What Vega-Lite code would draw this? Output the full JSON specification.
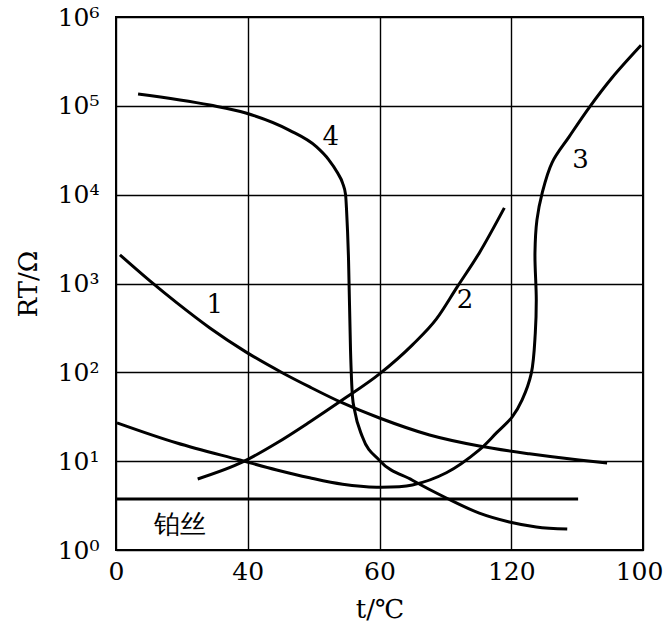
{
  "$schema": "https://vega.github.io/schema/vega-lite/v6.json",
  "width": 527,
  "height": 533,
  "autosize": {"type": "none"},
  "padding": {"left": 116, "top": 17, "right": 20, "bottom": 80},
  "background": "white",
  "config": {
    "view": {"stroke": "black", "strokeWidth": 2},
    "font": "DejaVu Serif",
    "style": {
      "guide-label": {"font": "DejaVu Serif"},
      "guide-title": {"font": "DejaVu Serif"}
    },
    "axis": {
      "grid": true,
      "gridColor": "black",
      "gridWidth": 1.4,
      "gridOpacity": 1,
      "ticks": false,
      "domain": false,
      "labelFont": "DejaVu Serif",
      "labelFontSize": 25,
      "labelColor": "black",
      "titleFont": "DejaVu Serif",
      "titleFontSize": 26,
      "titleFontWeight": "normal",
      "titleColor": "black",
      "labelOverlap": false,
      "labelFlush": false
    }
  },
  "datasets": {
    "curves": [
      {"series": "1", "order": 1, "t": 1.2, "R": 2100},
      {"series": "1", "order": 2, "t": 10.3, "R": 1070},
      {"series": "1", "order": 3, "t": 18.5, "R": 605},
      {"series": "1", "order": 4, "t": 28.5, "R": 316},
      {"series": "1", "order": 5, "t": 39.4, "R": 170},
      {"series": "1", "order": 6, "t": 50.6, "R": 98.4},
      {"series": "1", "order": 7, "t": 58.8, "R": 68.5},
      {"series": "1", "order": 8, "t": 68.8, "R": 45.2},
      {"series": "1", "order": 9, "t": 80, "R": 30.6},
      {"series": "1", "order": 10, "t": 95.2, "R": 19.7},
      {"series": "1", "order": 11, "t": 110.3, "R": 14.8},
      {"series": "1", "order": 12, "t": 125.5, "R": 12.1},
      {"series": "1", "order": 13, "t": 140.6, "R": 10.3},
      {"series": "1", "order": 14, "t": 149.1, "R": 9.55},

      {"series": "2", "order": 1, "t": 24.8, "R": 6.3},
      {"series": "2", "order": 2, "t": 38.5, "R": 9.8},
      {"series": "2", "order": 3, "t": 48.8, "R": 16},
      {"series": "2", "order": 4, "t": 58.8, "R": 27.6},
      {"series": "2", "order": 5, "t": 68.8, "R": 49},
      {"series": "2", "order": 6, "t": 80, "R": 96},
      {"series": "2", "order": 7, "t": 90, "R": 204},
      {"series": "2", "order": 8, "t": 97.3, "R": 399},
      {"series": "2", "order": 9, "t": 103.6, "R": 916},
      {"series": "2", "order": 10, "t": 110.3, "R": 2210},
      {"series": "2", "order": 11, "t": 117.9, "R": 7100},

      {"series": "3", "order": 1, "t": 0.3, "R": 27},
      {"series": "3", "order": 2, "t": 18.5, "R": 16},
      {"series": "3", "order": 3, "t": 37.6, "R": 10.3},
      {"series": "3", "order": 4, "t": 48.8, "R": 7.96},
      {"series": "3", "order": 5, "t": 58.8, "R": 6.5},
      {"series": "3", "order": 6, "t": 68.8, "R": 5.5},
      {"series": "3", "order": 7, "t": 79.1, "R": 5.1},
      {"series": "3", "order": 8, "t": 90, "R": 5.4},
      {"series": "3", "order": 9, "t": 100.3, "R": 7.4},
      {"series": "3", "order": 10, "t": 110.3, "R": 13.4},
      {"series": "3", "order": 11, "t": 115.5, "R": 20.8},
      {"series": "3", "order": 12, "t": 120.3, "R": 31.5},
      {"series": "3", "order": 13, "t": 123.3, "R": 49},
      {"series": "3", "order": 14, "t": 126.1, "R": 98},
      {"series": "3", "order": 15, "t": 127.3, "R": 277},
      {"series": "3", "order": 16, "t": 127.6, "R": 653},
      {"series": "3", "order": 17, "t": 127.2, "R": 2200},
      {"series": "3", "order": 18, "t": 127.8, "R": 5200},
      {"series": "3", "order": 19, "t": 129.4, "R": 10500},
      {"series": "3", "order": 20, "t": 132.4, "R": 23000},
      {"series": "3", "order": 21, "t": 137.6, "R": 45000},
      {"series": "3", "order": 22, "t": 143.6, "R": 95000},
      {"series": "3", "order": 23, "t": 150.6, "R": 207000},
      {"series": "3", "order": 24, "t": 159.4, "R": 480000},

      {"series": "4", "order": 1, "t": 6.7, "R": 136000},
      {"series": "4", "order": 2, "t": 28.5, "R": 102000},
      {"series": "4", "order": 3, "t": 39.4, "R": 83000},
      {"series": "4", "order": 4, "t": 52.7, "R": 53000},
      {"series": "4", "order": 5, "t": 60.9, "R": 34500},
      {"series": "4", "order": 6, "t": 64.5, "R": 25000},
      {"series": "4", "order": 7, "t": 67.3, "R": 17500},
      {"series": "4", "order": 8, "t": 68.8, "R": 13500},
      {"series": "4", "order": 9, "t": 69.7, "R": 10000},
      {"series": "4", "order": 10, "t": 70.0, "R": 6700},
      {"series": "4", "order": 11, "t": 70.6, "R": 1850},
      {"series": "4", "order": 12, "t": 71.2, "R": 178},
      {"series": "4", "order": 13, "t": 71.8, "R": 53},
      {"series": "4", "order": 14, "t": 72.4, "R": 38},
      {"series": "4", "order": 15, "t": 74.8, "R": 18.8},
      {"series": "4", "order": 16, "t": 80, "R": 10.2},
      {"series": "4", "order": 17, "t": 90, "R": 6.1},
      {"series": "4", "order": 18, "t": 100.3, "R": 3.85},
      {"series": "4", "order": 19, "t": 110.3, "R": 2.6},
      {"series": "4", "order": 20, "t": 119.4, "R": 2.07},
      {"series": "4", "order": 21, "t": 127.6, "R": 1.82},
      {"series": "4", "order": 22, "t": 137, "R": 1.72},

      {"series": "Pt", "order": 1, "t": 0, "R": 3.75},
      {"series": "Pt", "order": 2, "t": 140.3, "R": 3.75}
    ],
    "labels": [
      {"label": "1", "t": 30, "R": 575, "font": "DejaVu Serif"},
      {"label": "2", "t": 106, "R": 650, "font": "DejaVu Serif"},
      {"label": "3", "t": 141, "R": 24600, "font": "DejaVu Serif"},
      {"label": "4", "t": 65.2, "R": 44700, "font": "DejaVu Serif"},
      {"label": "铂丝", "t": 19.4, "R": 1.9, "font": "Noto Sans CJK SC"}
    ]
  },
  "encoding": {
    "x": {
      "field": "t", "type": "quantitative",
      "scale": {"domain": [0, 160], "nice": false, "zero": false},
      "axis": {
        "values": [0, 40, 80, 120, 160],
        "labelExpr": "datum.value == 80 ? '60' : datum.value == 160 ? '100' : datum.label",
        "labelOffset": {"condition": {"test": "datum.value == 160", "value": -4}, "value": 0},
        "labelFont": "DejaVu Serif",
        "titleFont": "DejaVu Serif",
        "labelPadding": 9,
        "title": "t/℃",
        "titlePadding": 12
      }
    },
    "y": {
      "field": "R", "type": "quantitative",
      "scale": {"type": "log", "domain": [1, 1000000], "nice": false},
      "axis": {
        "values": [1, 10, 100, 1000, 10000, 100000, 1000000],
        "labelExpr": "'10' + ['⁰','¹','²','³','⁴','⁵','⁶'][round(log(datum.value)/LN10)]",
        "labelFont": "DejaVu Serif",
        "titleFont": "DejaVu Serif",
        "labelPadding": 17,
        "labelBaseline": "middle",
        "title": "RT/Ω",
        "titlePadding": 16
      }
    }
  },
  "layer": [
    {
      "data": {"name": "curves"},
      "transform": [{"filter": "datum.series != '3'"}],
      "mark": {"type": "line", "interpolate": "monotone", "strokeWidth": 3, "color": "black", "clip": true},
      "encoding": {
        "detail": {"field": "series"},
        "order": {"field": "order", "type": "quantitative"}
      }
    },
    {
      "data": {"name": "curves"},
      "transform": [{"filter": "datum.series == '3'"}],
      "mark": {"type": "line", "interpolate": "catmull-rom", "strokeWidth": 3, "color": "black", "clip": true},
      "encoding": {
        "detail": {"field": "series"},
        "order": {"field": "order", "type": "quantitative"}
      }
    },
    {
      "data": {"name": "labels"},
      "mark": {"type": "text", "fontSize": 26, "color": "black", "baseline": "middle", "align": "center"},
      "encoding": {
        "text": {"field": "label"},
        "font": {"field": "font", "type": "nominal", "scale": null}
      }
    }
  ]
}
